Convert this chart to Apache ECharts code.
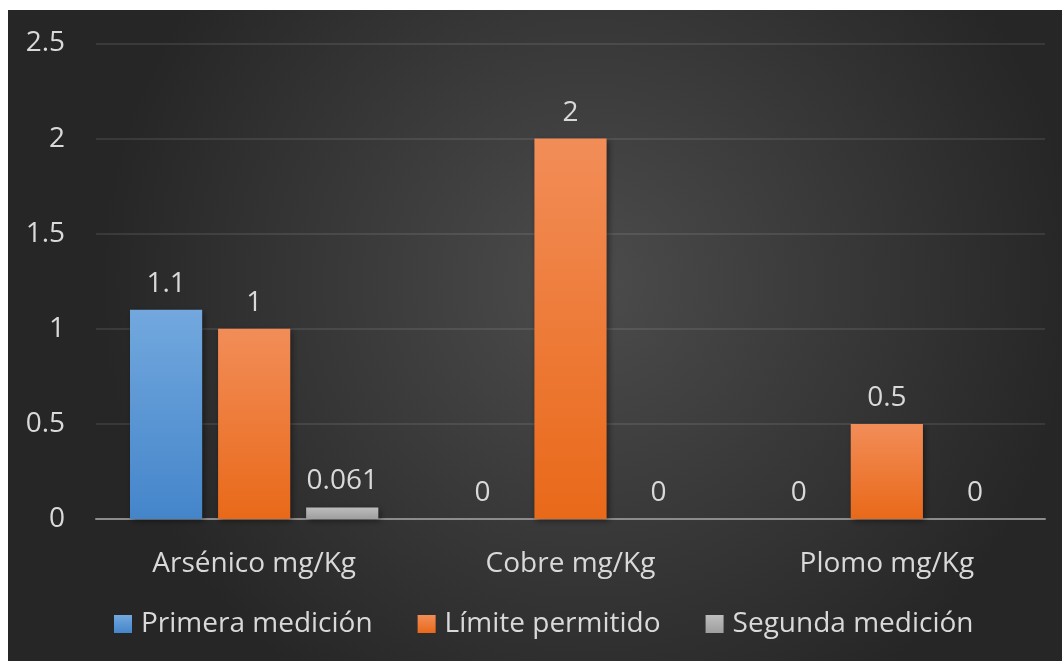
<!DOCTYPE html>
<html><head><meta charset="utf-8">
<script src="https://cdn.jsdelivr.net/npm/echarts@6/dist/echarts.min.js"></script>
<style>html,body{margin:0;padding:0;background:#fff}#c{width:1062px;height:661px}</style>
</head><body><div id="c"></div>
<script>
const categories = ['Arsénico mg/Kg', 'Cobre mg/Kg', 'Plomo mg/Kg'];
const seriesNames = ['Primera medición', 'Límite permitido', 'Segunda medición'];
const primera = [1.1, 0, 0];
const limite = [1, 2, 0.5];
const segunda = [0.061, 0, 0];
const yTicks = [0, 0.5, 1, 1.5, 2, 2.5];

const FONT = 'Open Sans';
const TXT = '#d9d9d9';
const FS = 28;
function grad(top, bottom) {
  return new echarts.graphic.LinearGradient(0, 0, 0, 1, [{offset: 0, color: top}, {offset: 1, color: bottom}]);
}
const colors = [grad('#72a8de', '#4485ca'), grad('#f28d58', '#e96919'), grad('#bdbdbd', '#9e9e9e')];
const legendColors = [grad('#72a8de', '#4485ca'), grad('#f28d58', '#e96919'), grad('#bdbdbd', '#9e9e9e')];
const datasets = [primera, limite, segunda];

const chart = echarts.init(document.getElementById('c'), null, {renderer: 'canvas'});
chart.setOption({
  animation: false,
  backgroundColor: '#ffffff',
  graphic: [{
    type: 'rect', left: 8, top: 10, z: -10,
    shape: {width: 1054, height: 651},
    style: {fill: new echarts.graphic.RadialGradient(0.55, 0.42, 0.75, [{offset: 0, color: '#4c4c4c'}, {offset: 1, color: '#262626'}])}
  }],
  grid: {left: 96, right: 17, top: 43.5, bottom: 142},
  legend: {
    top: 605, left: 109,
    itemWidth: 18, itemHeight: 18, itemGap: 45,
    textStyle: {color: TXT, fontSize: FS, fontFamily: FONT, padding: [0, 0, 0, 4]},
    data: seriesNames.map((n, i) => ({name: n, icon: 'rect', itemStyle: {color: legendColors[i]}}))
  },
  xAxis: {
    type: 'category', data: categories,
    axisLine: {lineStyle: {color: '#8c8c8c', width: 2}},
    axisTick: {show: false},
    axisLabel: {color: TXT, fontSize: FS, fontFamily: FONT, margin: 31}
  },
  yAxis: {
    type: 'value', min: 0, max: 2.5, interval: 0.5,
    axisLine: {show: false}, axisTick: {show: false},
    splitLine: {lineStyle: {color: 'rgba(255,255,255,0.09)', width: 2}},
    axisLabel: {color: TXT, fontSize: FS, fontFamily: FONT, margin: 31,
      formatter: v => yTicks.includes(v) ? String(v) : ''}
  },
  series: seriesNames.map((n, i) => ({
    name: n, type: 'bar', data: datasets[i],
    barGap: '22%', barCategoryGap: '21.5%',
    itemStyle: {color: colors[i], shadowBlur: 6, shadowColor: 'rgba(0,0,0,0.45)', shadowOffsetX: 2, shadowOffsetY: 2},
    label: {show: true, position: 'top', distance: 12, color: TXT, fontSize: FS, fontFamily: FONT}
  }))
});
</script></body></html>
